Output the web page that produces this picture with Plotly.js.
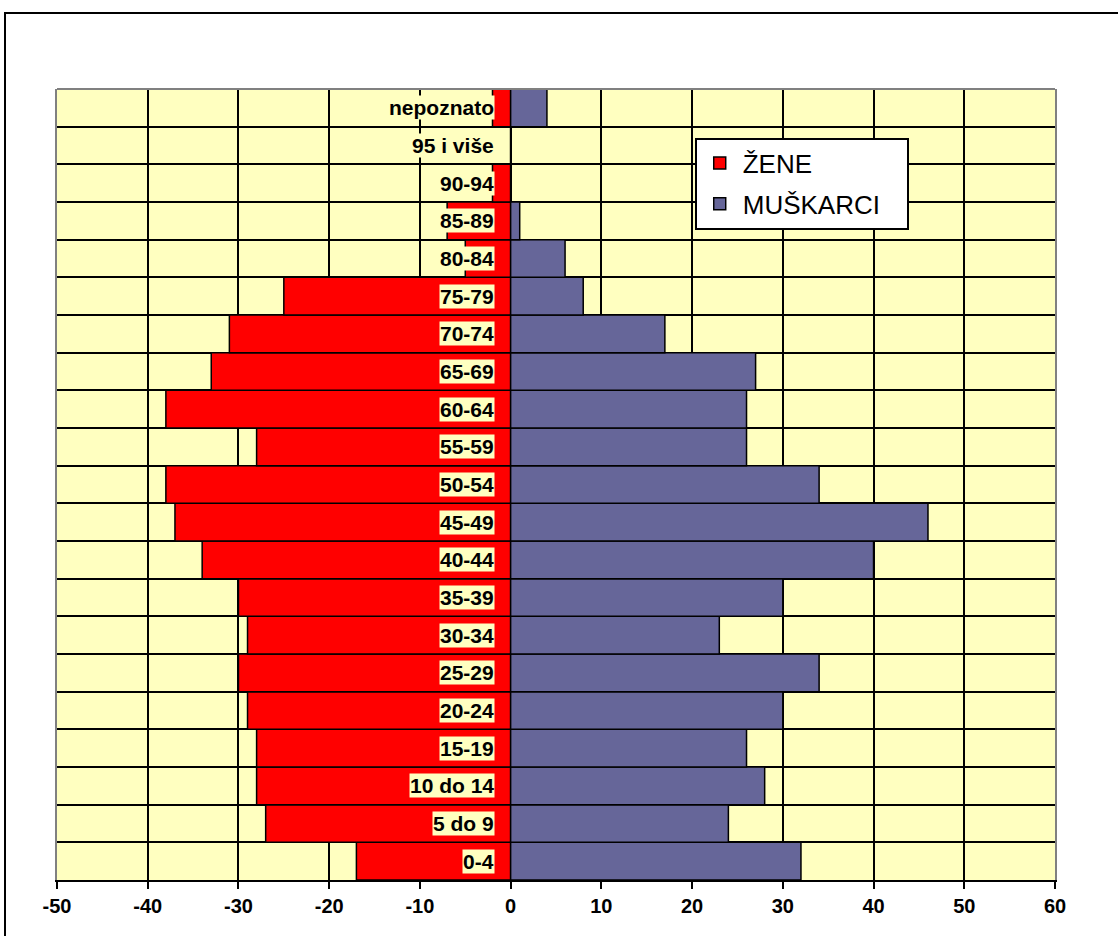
<!DOCTYPE html>
<html>
<head>
<meta charset="utf-8">
<script src="https://cdn.plot.ly/plotly-3.0.1.min.js"></script>
<style>
  html, body { margin: 0; padding: 0; background: #ffffff; overflow: hidden; }
  #frame { position: absolute; left: 4px; top: 12px; width: 1300px; height: 1100px; border: 2px solid #000; pointer-events: none; z-index: 2; }
  #chart { position: absolute; left: 0; top: 0; width: 1118px; height: 936px; z-index: 1; }
</style>
</head>
<body>
<div id="chart"></div>
<div id="frame"></div>
<script>
// Age groups, bottom to top
const categories = ["0-4", "5 do 9", "10 do 14", "15-19", "20-24", "25-29", "30-34", "35-39",
  "40-44", "45-49", "50-54", "55-59", "60-64", "65-69", "70-74", "75-79", "80-84", "85-89",
  "90-94", "95 i više", "nepoznato"];

// Women (drawn to the left, negative)
const zene = [-17, -27, -28, -28, -29, -30, -29, -30, -34, -37, -38, -28, -38, -33, -31, -25, -5, -7, -2, 0, -2];

// Men (drawn to the right)
const muskarci = [32, 24, 28, 26, 30, 34, 23, 30, 40, 46, 34, 26, 26, 27, 17, 8, 6, 1, 0, 0, 4];

const xTicks = [-50, -40, -30, -20, -10, 0, 10, 20, 30, 40, 50, 60];

const seriesNames = ["ŽENE", "MUŠKARCI"];

const FONT = "Liberation Sans, Arial, Helvetica, sans-serif";
const PAD = "\u00A0\u00A0\u00A0";

const traces = [
  {
    type: "bar", orientation: "h", name: seriesNames[0], legendgroup: "z",
    y: categories, x: zene,
    marker: { color: "#FF0000", line: { color: "#000000", width: 1.5 } },
    hoverinfo: "x+y"
  },
  {
    type: "bar", orientation: "h", name: seriesNames[1] + PAD, legendgroup: "m",
    y: categories, x: muskarci,
    marker: { color: "#666699", line: { color: "#000000", width: 1.5 } },
    hoverinfo: "x+y"
  }
];

const annotations = categories.map(c => ({
  x: 0, y: c, xref: "x", yref: "y",
  text: c, showarrow: false,
  xanchor: "right", yanchor: "middle", xshift: -16,
  bgcolor: "#FFFFC0", borderpad: 0,
  font: { family: FONT, size: 21, color: "#000000", weight: "bold" }
}));

const layout = {
  width: 1118, height: 936,
  margin: { l: 57, r: 63, t: 89, b: 56 },
  paper_bgcolor: "rgba(0,0,0,0)",
  plot_bgcolor: "#FFFFC0",
  barmode: "overlay",
  bargap: 0,
  showlegend: true,
  legend: {
    x: 0.639, y: 0.9385, xanchor: "left", yanchor: "top",
    bgcolor: "#FFFFFF", bordercolor: "#000000", borderwidth: 2,
    font: { family: FONT, size: 26, color: "#000000" },
    traceorder: "grouped", tracegroupgap: 4, itemwidth: 36
  },
  xaxis: {
    range: [-50, 60],
    tickvals: xTicks,
    ticktext: xTicks.map(String),
    showgrid: true, gridcolor: "#000000", gridwidth: 2,
    zeroline: true, zerolinecolor: "#000000", zerolinewidth: 2,
    showline: true, linecolor: "#000000", linewidth: 2,
    ticks: "outside", ticklen: 7, tickwidth: 2, tickcolor: "#000000",
    tickfont: { family: FONT, size: 20, color: "#000000", weight: "bold" },
    fixedrange: true
  },
  yaxis: {
    type: "category",
    categoryorder: "array", categoryarray: categories,
    tickson: "boundaries",
    showgrid: true, gridcolor: "#000000", gridwidth: 2,
    showticklabels: false, ticks: "",
    showline: true, linecolor: "#808080", linewidth: 2, mirror: true,
    fixedrange: true
  },
  shapes: [
    { type: "line", xref: "paper", yref: "paper", x0: 0, x1: 1, y0: 1, y1: 1,
      line: { color: "#808080", width: 2 } }
  ],
  annotations: annotations
};

Plotly.newPlot("chart", traces, layout, { displayModeBar: false, staticPlot: true });
</script>
</body>
</html>
